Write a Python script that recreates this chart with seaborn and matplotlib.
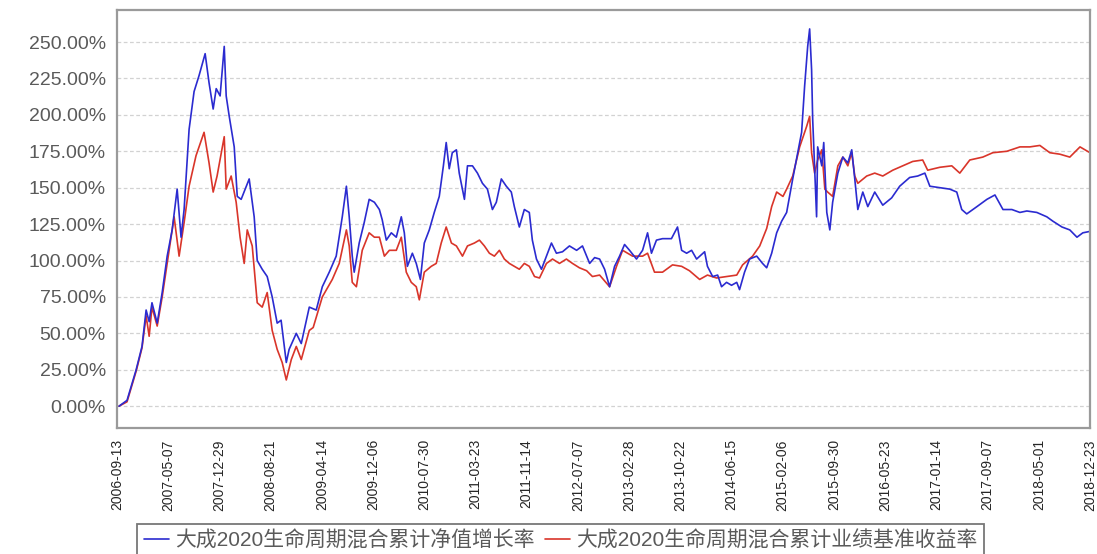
import numpy as np
import matplotlib
matplotlib.use("Agg")
import matplotlib.pyplot as plt
import pandas as pd
import seaborn as sns

blue_name = '大成2020生命周期混合累计净值增长率'
red_name = '大成2020生命周期混合累计业绩基准收益率'

blue_dates = [
	'2006-09-22', '2006-10-29', '2006-12-10', '2007-01-06', '2007-01-25', '2007-02-08', '2007-02-21',
	'2007-03-17', '2007-04-09', '2007-05-02', '2007-05-25', '2007-06-17', '2007-07-05', '2007-07-19',
	'2007-08-11', '2007-09-03', '2007-09-26', '2007-10-24', '2007-11-11', '2007-11-30', '2007-12-14',
	'2008-01-01', '2008-01-20', '2008-01-29', '2008-02-12', '2008-03-06', '2008-03-20', '2008-04-07',
	'2008-05-14', '2008-06-06', '2008-06-20', '2008-07-13', '2008-08-05', '2008-08-28', '2008-09-20',
	'2008-10-08', '2008-11-01', '2008-11-14', '2008-12-17', '2009-01-09', '2009-02-15', '2009-03-19',
	'2009-04-16', '2009-05-18', '2009-06-19', '2009-07-17', '2009-08-05', '2009-08-18', '2009-09-01',
	'2009-09-10', '2009-10-03', '2009-10-26', '2009-11-18', '2009-12-12', '2010-01-04', '2010-01-17',
	'2010-02-05', '2010-02-28', '2010-03-23', '2010-04-15', '2010-04-29', '2010-05-13', '2010-06-05',
	'2010-06-23', '2010-07-12', '2010-07-30', '2010-08-22', '2010-09-14', '2010-10-07', '2010-10-26',
	'2010-11-08', '2010-11-22', '2010-12-06', '2010-12-25', '2011-01-07', '2011-01-31', '2011-02-14',
	'2011-03-09', '2011-04-01', '2011-04-24', '2011-05-17', '2011-06-09', '2011-06-27', '2011-07-20',
	'2011-08-12', '2011-09-04', '2011-09-18', '2011-10-11', '2011-11-03', '2011-11-26', '2011-12-10',
	'2011-12-29', '2012-01-21', '2012-02-13', '2012-03-07', '2012-03-30', '2012-04-27', '2012-05-29',
	'2012-07-01', '2012-07-28', '2012-08-30', '2012-09-22', '2012-10-15', '2012-11-07', '2012-11-30',
	'2012-12-23', '2013-01-15', '2013-02-07', '2013-03-02', '2013-04-03', '2013-05-01', '2013-05-24',
	'2013-06-11', '2013-07-04', '2013-08-01', '2013-09-11', '2013-10-09', '2013-10-28', '2013-11-20',
	'2013-12-13', '2014-01-05', '2014-02-11', '2014-02-24', '2014-03-20', '2014-04-12', '2014-04-30',
	'2014-05-23', '2014-06-15', '2014-07-09', '2014-07-22', '2014-08-14', '2014-09-06', '2014-10-09',
	'2014-11-05', '2014-11-24', '2014-12-17', '2015-01-09', '2015-02-01', '2015-02-24', '2015-03-24',
	'2015-04-16', '2015-05-04', '2015-05-18', '2015-06-01', '2015-06-10', '2015-06-19', '2015-06-24',
	'2015-07-03', '2015-07-12', '2015-07-17', '2015-08-05', '2015-08-14', '2015-08-28', '2015-09-11',
	'2015-09-24', '2015-10-18', '2015-11-10', '2015-12-03', '2015-12-21', '2016-01-04', '2016-01-18',
	'2016-02-10', '2016-03-04', '2016-04-05', '2016-05-12', '2016-06-22', '2016-07-29', '2016-09-13',
	'2016-10-20', '2016-11-22', '2016-12-15', '2017-01-30', '2017-03-17', '2017-04-18', '2017-05-11',
	'2017-06-03', '2017-07-20', '2017-09-04', '2017-10-11', '2017-11-17', '2017-12-28', '2018-02-03',
	'2018-03-07', '2018-04-22', '2018-06-07', '2018-07-05', '2018-08-16', '2018-09-21', '2018-10-24',
	'2018-11-20', '2018-12-23',
]
blue_values = [
	0, 4, 25, 41, 66, 58, 71,
	57, 78, 103, 121, 149, 116, 135,
	190, 216, 227, 242, 222, 204, 218,
	213, 247, 213, 199, 178, 144, 142,
	156, 130, 100, 94, 89, 75, 57,
	59, 30, 39, 50, 43, 68, 66,
	82, 92, 103, 130, 151, 130, 103,
	92, 112, 126, 142, 140, 135, 128,
	114, 119, 116, 130, 119, 96, 105,
	98, 87, 112, 121, 133, 144, 165,
	181, 163, 174, 176, 160, 142, 165,
	165, 160, 153, 149, 135, 140, 156,
	151, 147, 137, 123, 135, 133, 114,
	101, 94, 103, 112, 105, 106, 110,
	107, 110, 98, 102, 101, 94, 82,
	96, 103, 111, 107, 101, 107, 119,
	105, 114, 115, 115, 123, 107, 105,
	107, 101, 106, 96, 89, 90, 82,
	85, 83, 85, 80, 92, 101, 103,
	98, 95, 105, 119, 127, 133, 156,
	174, 188, 220, 247, 259, 231, 197,
	163, 130, 178, 165, 181, 133, 121,
	140, 160, 171, 167, 176, 156, 135,
	147, 137, 147, 138, 143, 151, 157,
	158, 160, 151, 150, 149, 147, 135,
	132, 137, 142, 145, 135, 135, 133,
	134, 133, 130, 127, 123, 121, 116,
	119, 120,
]

red_dates = [
	'2006-09-22', '2006-10-29', '2006-12-10', '2007-01-06', '2007-01-25', '2007-02-08', '2007-02-21',
	'2007-03-17', '2007-04-09', '2007-05-02', '2007-06-03', '2007-06-26', '2007-07-19', '2007-08-11',
	'2007-09-12', '2007-10-19', '2007-11-11', '2007-11-30', '2007-12-18', '2008-01-20', '2008-01-29',
	'2008-02-21', '2008-03-15', '2008-04-02', '2008-04-21', '2008-05-05', '2008-05-28', '2008-06-20',
	'2008-07-13', '2008-08-05', '2008-08-28', '2008-09-20', '2008-10-13', '2008-11-01', '2008-11-24',
	'2008-12-17', '2009-01-09', '2009-02-15', '2009-03-05', '2009-04-16', '2009-06-01', '2009-07-03',
	'2009-08-05', '2009-08-18', '2009-09-01', '2009-09-20', '2009-10-17', '2009-11-18', '2009-12-12',
	'2010-01-04', '2010-01-27', '2010-02-19', '2010-03-23', '2010-04-15', '2010-05-08', '2010-05-31',
	'2010-06-23', '2010-07-07', '2010-07-30', '2010-08-31', '2010-09-23', '2010-10-16', '2010-11-08',
	'2010-12-02', '2010-12-25', '2011-01-22', '2011-02-14', '2011-03-18', '2011-04-10', '2011-05-03',
	'2011-05-26', '2011-06-18', '2011-07-11', '2011-08-03', '2011-08-26', '2011-09-18', '2011-10-11',
	'2011-11-03', '2011-11-26', '2011-12-20', '2012-01-12', '2012-02-13', '2012-03-12', '2012-04-13',
	'2012-05-15', '2012-06-12', '2012-07-14', '2012-08-16', '2012-09-12', '2012-10-15', '2012-11-30',
	'2013-01-01', '2013-01-29', '2013-03-16', '2013-05-01', '2013-05-24', '2013-06-25', '2013-08-01',
	'2013-09-16', '2013-10-28', '2013-12-03', '2014-01-19', '2014-02-24', '2014-04-07', '2014-05-23',
	'2014-07-09', '2014-08-05', '2014-09-20', '2014-10-23', '2014-11-24', '2014-12-17', '2015-01-09',
	'2015-02-07', '2015-02-24', '2015-03-24', '2015-04-25', '2015-05-27', '2015-06-10', '2015-06-19',
	'2015-07-03', '2015-07-17', '2015-08-05', '2015-08-19', '2015-09-01', '2015-09-24', '2015-10-18',
	'2015-11-10', '2015-12-03', '2015-12-21', '2016-01-04', '2016-01-18', '2016-02-28', '2016-04-05',
	'2016-05-12', '2016-06-27', '2016-08-12', '2016-09-27', '2016-11-12', '2016-12-05', '2017-01-30',
	'2017-03-26', '2017-05-02', '2017-06-17', '2017-08-16', '2017-10-01', '2017-12-05', '2018-02-03',
	'2018-03-21', '2018-05-06', '2018-06-21', '2018-08-06', '2018-09-21', '2018-11-07', '2018-12-23',
]
red_values = [
	0, 3, 24, 40, 62, 48, 68,
	55, 75, 98, 130, 103, 126, 151,
	172, 188, 167, 147, 158, 185, 149,
	158, 140, 116, 98, 121, 110, 71,
	68, 78, 52, 39, 30, 18, 32,
	41, 32, 52, 54, 75, 87, 98,
	121, 110, 85, 82, 107, 119, 116,
	116, 103, 107, 107, 116, 92, 85,
	82, 73, 92, 96, 98, 112, 123,
	112, 110, 103, 110, 112, 114, 110,
	105, 103, 107, 101, 98, 96, 94,
	98, 96, 89, 88, 98, 101, 98,
	101, 98, 95, 93, 89, 90, 82,
	96, 107, 103, 103, 105, 92, 92,
	97, 96, 93, 87, 90, 88, 89,
	90, 97, 103, 110, 122, 137, 147,
	144, 149, 158, 178, 192, 199, 174,
	160, 169, 176, 149, 147, 144, 165,
	171, 165, 174, 158, 153, 158, 160,
	158, 162, 165, 168, 169, 162, 164,
	165, 160, 169, 171, 174, 175, 178,
	178, 179, 174, 173, 171, 178, 174,
]

tick_labels = [
	'2006-09-13', '2007-05-07', '2007-12-29', '2008-08-21', '2009-04-14', '2009-12-06', '2010-07-30',
	'2011-03-23', '2011-11-14', '2012-07-07', '2013-02-28', '2013-10-22', '2014-06-15', '2015-02-06',
	'2015-09-30', '2016-05-23', '2017-01-14', '2017-09-07', '2018-05-01', '2018-12-23',
]
y_ticks = [0, 25, 50, 75, 100, 125, 150, 175, 200, 225, 250]

sns.set_style('white')
plt.rcParams['font.family'] = ['Liberation Sans', 'Noto Sans CJK SC', 'DejaVu Sans']

fig = plt.figure(figsize=(10.97, 5.54), dpi=100)
ax = fig.add_axes([0.1067, 0.2274, 0.8869, 0.7546])

blue_df = pd.DataFrame({'date': pd.to_datetime(blue_dates), 'value': blue_values})
red_df = pd.DataFrame({'date': pd.to_datetime(red_dates), 'value': red_values})

sns.lineplot(data=red_df, x='date', y='value', color='#d9352a', linewidth=1.2, ax=ax, label=red_name, legend=False)
sns.lineplot(data=blue_df, x='date', y='value', color='#2b2bd0', linewidth=1.2, ax=ax, label=blue_name, legend=False)

ticks = pd.to_datetime(tick_labels)
ax.set_xlim(ticks[0], ticks[-1])
ax.set_ylim(-15, 272)
ax.set_xticks(ticks)
ax.set_xticklabels(tick_labels, rotation=90, fontsize=10, color='#262626')
ax.set_yticks(y_ticks)
ax.set_yticklabels([f'{v:.2f}%' for v in y_ticks], fontsize=14, color='#5a5a5a')
ax.set_xlabel('')
ax.set_ylabel('')
ax.tick_params(axis='both', direction='out', length=5, width=0.8, color='#888888', pad=3)

ax.yaxis.grid(True, color='#d2d2d2', linestyle=(0, (3, 2)), linewidth=0.9)
ax.xaxis.grid(False)
for side in ax.spines.values():
	side.set_color('#9a9a9a')
	side.set_linewidth(1.6)

handles, labels = ax.get_legend_handles_labels()
order = [labels.index(blue_name), labels.index(red_name)]
leg = fig.legend([handles[i] for i in order], [labels[i] for i in order],
	loc='upper center', bbox_to_anchor=(0.511, 0.073), ncol=2, frameon=True, fancybox=False,
	fontsize=15, handlelength=1.2, handletextpad=0.3, columnspacing=0.5, borderpad=0.3)
leg.get_frame().set_edgecolor('#555555')
leg.get_frame().set_linewidth(1.3)
for t in leg.get_texts():
	t.set_color('#5a5a5a')

fig.savefig('out.png', dpi=100)
